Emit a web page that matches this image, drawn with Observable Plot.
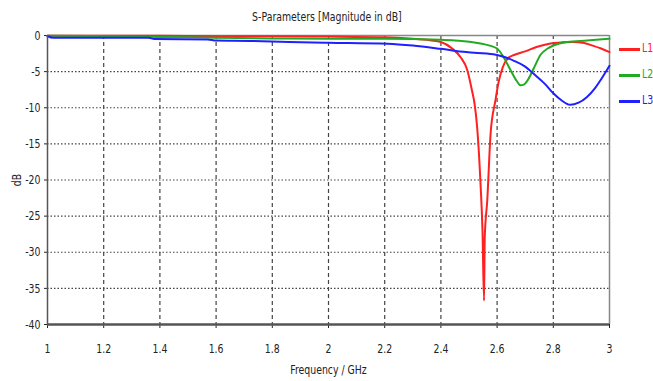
<!DOCTYPE html>
<html><head><meta charset="utf-8">
<script src="https://cdn.jsdelivr.net/npm/d3@7"></script>
<script src="https://cdn.jsdelivr.net/npm/@observablehq/plot@0.6"></script>
<style>
body{margin:0;background:#fff;}
#wrap{position:relative;width:653px;height:381px;overflow:hidden;font-family:"DejaVu Sans",sans-serif;}
#title{position:absolute;left:0;width:653px;top:9px;text-align:center;font-size:13px;color:#222;transform:scaleX(0.72);transform-origin:328px 0;}
#legend{position:absolute;left:619px;top:40px;}
.li{position:relative;height:26px;width:34px;font-size:13px;}
.li span.sw{position:absolute;left:0;top:8px;width:21px;height:2.5px;}
.li span.t{position:absolute;left:23px;top:0;transform:scaleX(0.72);transform-origin:0 0;white-space:nowrap;}
</style></head>
<body><div id="wrap"><div id="title">S-Parameters [Magnitude in dB]</div><div id="legend"></div></div>
<script>
const seriesNames = ["L1","L2","L3"];
const seriesColors = ["#ff2020","#22aa22","#2020ff"];

const l1Freq = [1.0,1.2,1.4,1.6,1.8,2.0,2.2,2.3,2.35,2.4,2.44,2.47,2.494,2.51,2.52,2.529,2.541,2.548,2.5535,2.556,2.565,2.577,2.594,2.605,2.62,2.64,2.66,2.7,2.74,2.79,2.83,2.87,2.91,2.94,2.97,3.0];
const l1dB   = [-0.05,-0.05,-0.05,-0.1,-0.1,-0.15,-0.25,-0.45,-0.6,-0.9,-1.8,-3.0,-4.8,-7.5,-9.5,-12.7,-20.5,-27,-36.7,-28,-22.8,-13.5,-9,-6.5,-4.4,-3.1,-2.7,-2.2,-1.6,-1.1,-0.95,-0.9,-1.05,-1.4,-1.8,-2.3];

const l2Freq = [1.0,1.2,1.4,1.6,1.8,2.0,2.2,2.4,2.5,2.541,2.6,2.623,2.648,2.67,2.683,2.695,2.707,2.731,2.754,2.78,2.8,2.85,2.92,3.0];
const l2dB   = [-0.05,-0.1,-0.2,-0.3,-0.4,-0.45,-0.45,-0.6,-0.85,-1.1,-1.8,-3.0,-4.8,-6.3,-6.9,-6.8,-6.3,-4.5,-2.7,-1.8,-1.4,-0.9,-0.7,-0.45];

const l3Freq = [1.0,1.02,1.2,1.36,1.38,1.57,1.6,1.72,1.86,2.0,2.21,2.3,2.4,2.49,2.587,2.62,2.66,2.7,2.73,2.77,2.8,2.83,2.86,2.89,2.92,2.95,2.968,3.0];
const l3dB   = [-0.1,-0.3,-0.3,-0.3,-0.5,-0.55,-0.7,-0.75,-0.9,-1.0,-1.15,-1.4,-1.85,-2.3,-2.6,-2.9,-3.5,-4.3,-5.3,-6.7,-8.0,-9.0,-9.6,-9.3,-8.5,-7.2,-6.2,-4.2];

const xTicks = [1,1.2,1.4,1.6,1.8,2,2.2,2.4,2.6,2.8,3];
const yTicks = [0,-5,-10,-15,-20,-25,-30,-35,-40];

const freqs = [l1Freq,l2Freq,l3Freq];
const dbs = [l1dB,l2dB,l3dB];
const data = [];
seriesNames.forEach((s,i)=>freqs[i].forEach((f,j)=>data.push({series:s,f,db:dbs[i][j]})));

const innerX = xTicks.slice(1,-1);
const innerY = yTicks.slice(1,-1);

const chart = Plot.plot({
  width:653, height:381,
  marginLeft:47, marginRight:44, marginTop:35, marginBottom:57,
  style:{fontFamily:'"DejaVu Sans",sans-serif',fontSize:"13px",color:"#222",background:"transparent"},
  x:{domain:[1,3], ticks:xTicks, tickFormat:d=>d3.format("~g")(d), label:"Frequency / GHz", labelAnchor:"center", labelArrow:"none", labelOffset:49, tickSize:4, tickPadding:15},
  y:{domain:[-40,0], ticks:yTicks, tickFormat:d=>String(d), label:"dB", labelAnchor:"center", labelArrow:"none", labelOffset:36, tickSize:3, tickPadding:4},
  color:{domain:seriesNames, range:seriesColors},
  marks:[
    Plot.ruleY(innerY,{stroke:"#444",strokeWidth:1.2,strokeDasharray:"1.5,2"}),
    Plot.ruleX(innerX,{stroke:"#444",strokeWidth:1.2,strokeDasharray:"4,3"}),
    Plot.ruleY([0],{stroke:"#888",strokeWidth:1.5}),
    Plot.ruleX([3],{stroke:"#888",strokeWidth:1.5}),
    Plot.line(data,{x:"f",y:"db",stroke:"series",z:"series",strokeWidth:2,curve:"monotone-x"}),
    Plot.ruleY([-40],{stroke:"#555",strokeWidth:2.5}),
    Plot.ruleX([1],{stroke:"#555",strokeWidth:1.5})
  ]
});
// condense SVG texts horizontally (narrow UI font look)
chart.querySelectorAll("text").forEach(t=>{
  const tr = t.getAttribute("transform")||"";
  const x = parseFloat(t.getAttribute("x"))||0;
  if (t.hasAttribute("x")) t.setAttribute("x",0);
  t.setAttribute("transform", `${tr} translate(${x},0) scale(0.72,1)`);
});
const wrap = document.getElementById("wrap");
wrap.appendChild(chart);
chart.style.position="absolute"; chart.style.left="0"; chart.style.top="0";

const leg = document.getElementById("legend");
seriesNames.forEach((s,i)=>{
  const d=document.createElement("div"); d.className="li";
  d.innerHTML=`<span class="sw" style="background:${seriesColors[i]}"></span><span class="t" style="color:${seriesColors[i]}">${s}</span>`;
  leg.appendChild(d);
});
wrap.appendChild(leg);
wrap.appendChild(document.getElementById("title"));
</script></body></html>
